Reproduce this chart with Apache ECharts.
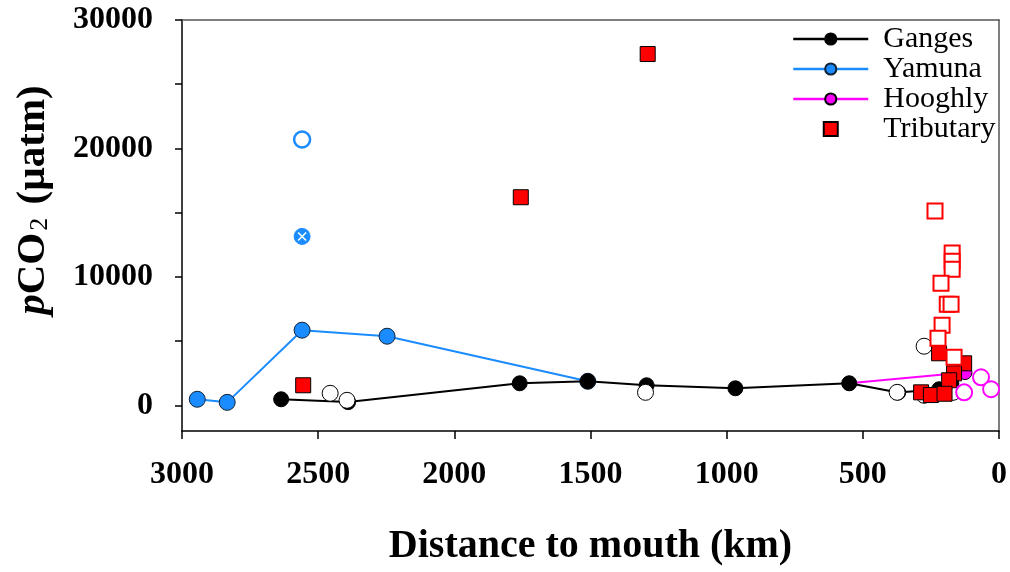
<!DOCTYPE html>
<html>
<head>
<meta charset="utf-8">
<script src="https://cdn.jsdelivr.net/npm/echarts@6/dist/echarts.min.js"></script>
<style>
  html, body { margin: 0; padding: 0; background: #fff; }
  #chart { width: 1010px; height: 572px; }
</style>
</head>
<body>
<div id="chart"></div>
<script>
// pCO2 along the Ganges system: [distance to mouth (km), pCO2 (µatm)]
const gangesMain = [[2636, 470], [2390, 250], [1760, 1715], [1510, 1870], [1294, 1560], [968, 1325], [550, 1715], [370, 1000], [220, 1250], [175, 1700]];
const yamunaMain = [[2944, 470], [2834, 230], [2559, 5850], [2247, 5380], [1510, 1870]];
const hooghlyMain = [[550, 1715], [125, 2550]];
const tributaryFilled = [[2555, 1560], [1756, 16200], [1290, 27350], [220, 4050], [128, 3270], [165, 2490], [183, 1950], [286, 1010], [250, 800], [200, 900]];
const gangesOpen = [[2456, 935], [2394, 390], [1298, 1010], [374, 1010], [275, 4600], [275, 780], [169, 1010]];
const yamunaOpen = [[2559, 20700]];
const yamunaCrossed = [[2559, 13150]];
const tributaryOpen = [[235, 15120], [172, 11850], [172, 11220], [172, 10600], [213, 9500], [190, 7870], [176, 7870], [209, 6230], [224, 5220], [165, 3740]];
const hooghlyOpen = [[66, 2180], [29, 1250], [128, 1010]];

const xTicks = [3000, 2500, 2000, 1500, 1000, 500, 0];
const yTickValues = [0, 5000, 10000, 15000, 20000, 25000, 30000];
const yLabelValues = [0, 10000, 20000, 30000];
const legendNames = ['Ganges', 'Yamuna', 'Hooghly', 'Tributary'];

const BLUE = '#1a8cff';
const SERIF = '"Liberation Serif", "Times New Roman", serif';
const SQUARE = 'path://M0,0H10V10H0Z';
const plain = v => String(v);

const chart = echarts.init(document.getElementById('chart'), null, { renderer: 'canvas' });

const option = {
  backgroundColor: '#fff',
  animation: false,
  grid: { left: 182, top: 20, width: 818, height: 411 },
  legend: {
    orient: 'vertical',
    left: 787,
    top: 19,
    itemWidth: 75,
    itemHeight: 14,
    itemGap: 0,
    symbolKeepAspect: true,
    lineStyle: { width: 2.5 },
    data: legendNames.map(n => n === 'Tributary' ? { name: n, icon: SQUARE } : n),
    textStyle: { fontFamily: SERIF, fontSize: 30, color: '#000', lineHeight: 30, padding: [0, 0, 0, 10] }
  },
  xAxis: [{
    type: 'value', min: 0, max: 3000, interval: 500, inverse: true,
    axisLine: { onZero: false, lineStyle: { color: '#000', width: 1.5 } },
    axisTick: { inside: false, length: 8, lineStyle: { color: '#000', width: 1.5 } },
    splitLine: { show: false },
    axisLabel: { margin: 28, color: '#000', fontFamily: SERIF, fontWeight: 'bold', fontSize: 32,
      customValues: xTicks, formatter: plain },
    name: 'Distance to mouth (km)', nameLocation: 'middle', nameGap: 96,
    nameTextStyle: { fontFamily: SERIF, fontWeight: 'bold', fontSize: 40, color: '#000' }
  }, {
    type: 'value', position: 'top', min: 0, max: 3000, inverse: true,
    axisLine: { onZero: false, lineStyle: { color: '#555', width: 1.5 } },
    axisTick: { show: false }, axisLabel: { show: false }, splitLine: { show: false }
  }],
  yAxis: [{
    type: 'value', min: -2000, max: 30000,
    axisLine: { onZero: false, lineStyle: { color: '#000', width: 1.5 } },
    axisTick: { length: 7, lineStyle: { color: '#000', width: 1.5 }, customValues: yTickValues },
    splitLine: { show: false },
    axisLabel: { margin: 29, color: '#000', fontFamily: SERIF, fontWeight: 'bold', fontSize: 32,
      customValues: yLabelValues, formatter: plain }
  }, {
    type: 'value', position: 'right', min: -2000, max: 30000,
    axisLine: { show: true, onZero: false, lineStyle: { color: '#555', width: 1.5 } },
    axisTick: { show: false }, axisLabel: { show: false }, splitLine: { show: false }
  }],
  graphic: [{
    type: 'text',
    x: 33, y: 200,
    rotation: Math.PI / 2,
    style: {
      text: '{p|p}{b|CO}{s|2}{b| (µatm)}',
      align: 'center', verticalAlign: 'middle',
      rich: {
        p: { fontFamily: SERIF, fontStyle: 'italic', fontWeight: 'bold', fontSize: 41, lineHeight: 41, verticalAlign: 'bottom' },
        b: { fontFamily: SERIF, fontWeight: 'bold', fontSize: 41, lineHeight: 41, verticalAlign: 'bottom' },
        s: { fontFamily: SERIF, fontSize: 26, lineHeight: 26, verticalAlign: 'bottom', padding: [0, 3, 0, 2] }
      },
      fill: '#000'
    }
  }],
  series: [
    {
      name: 'Yamuna', type: 'line', data: yamunaMain,
      lineStyle: { color: BLUE, width: 2 },
      symbol: 'circle', symbolSize: 16,
      itemStyle: { color: BLUE, borderColor: '#123', borderWidth: 1 }, z: 2
    },
    {
      name: 'Hooghly', type: 'line', data: hooghlyMain,
      lineStyle: { color: '#ff00ff', width: 2 },
      symbol: 'circle', symbolSize: 14,
      itemStyle: { color: '#ff00ff', borderColor: '#000', borderWidth: 1 }, z: 2
    },
    {
      name: 'Ganges', type: 'line', data: gangesMain,
      lineStyle: { color: '#000', width: 2 },
      symbol: 'circle', symbolSize: 15,
      itemStyle: { color: '#000', borderColor: '#000', borderWidth: 1 }, z: 3
    },
    {
      name: 'Ganges (open)', type: 'scatter', data: gangesOpen,
      symbol: 'circle', symbolSize: 16,
      itemStyle: { color: '#fff', borderColor: '#000', borderWidth: 1, opacity: 1 }, z: 4
    },
    {
      name: 'Tributary', type: 'scatter', data: tributaryFilled,
      symbol: 'rect', symbolSize: 15,
      itemStyle: { color: '#ff0000', borderColor: '#000', borderWidth: 1, opacity: 1 }, z: 5
    },
    {
      name: 'Tributary (open)', type: 'scatter', data: tributaryOpen,
      symbol: 'rect', symbolSize: 15,
      itemStyle: { color: '#fff', borderColor: '#ff0000', borderWidth: 2, opacity: 1 }, z: 6
    },
    {
      name: 'Hooghly (open)', type: 'scatter', data: hooghlyOpen,
      symbol: 'circle', symbolSize: 16,
      itemStyle: { color: '#fff', borderColor: '#ff00ff', borderWidth: 2, opacity: 1 }, z: 6
    },
    {
      name: 'Yamuna (open)', type: 'scatter', data: yamunaOpen,
      symbol: 'circle', symbolSize: 16,
      itemStyle: { color: '#fff', borderColor: BLUE, borderWidth: 2.5, opacity: 1 }, z: 6
    },
    {
      name: 'Yamuna (crossed)', type: 'scatter', data: yamunaCrossed,
      symbol: 'circle', symbolSize: 16,
      itemStyle: { color: BLUE, borderColor: BLUE, borderWidth: 1, opacity: 1 }, z: 6
    },
    {
      name: 'Yamuna (cross)', type: 'scatter', data: yamunaCrossed,
      symbol: 'path://M0,0L10,10M10,0L0,10', symbolSize: 8,
      itemStyle: { color: 'none', borderColor: '#fff', borderWidth: 1.5, opacity: 1 }, z: 7
    }
  ]
};

chart.setOption(option);
</script>
</body>
</html>
